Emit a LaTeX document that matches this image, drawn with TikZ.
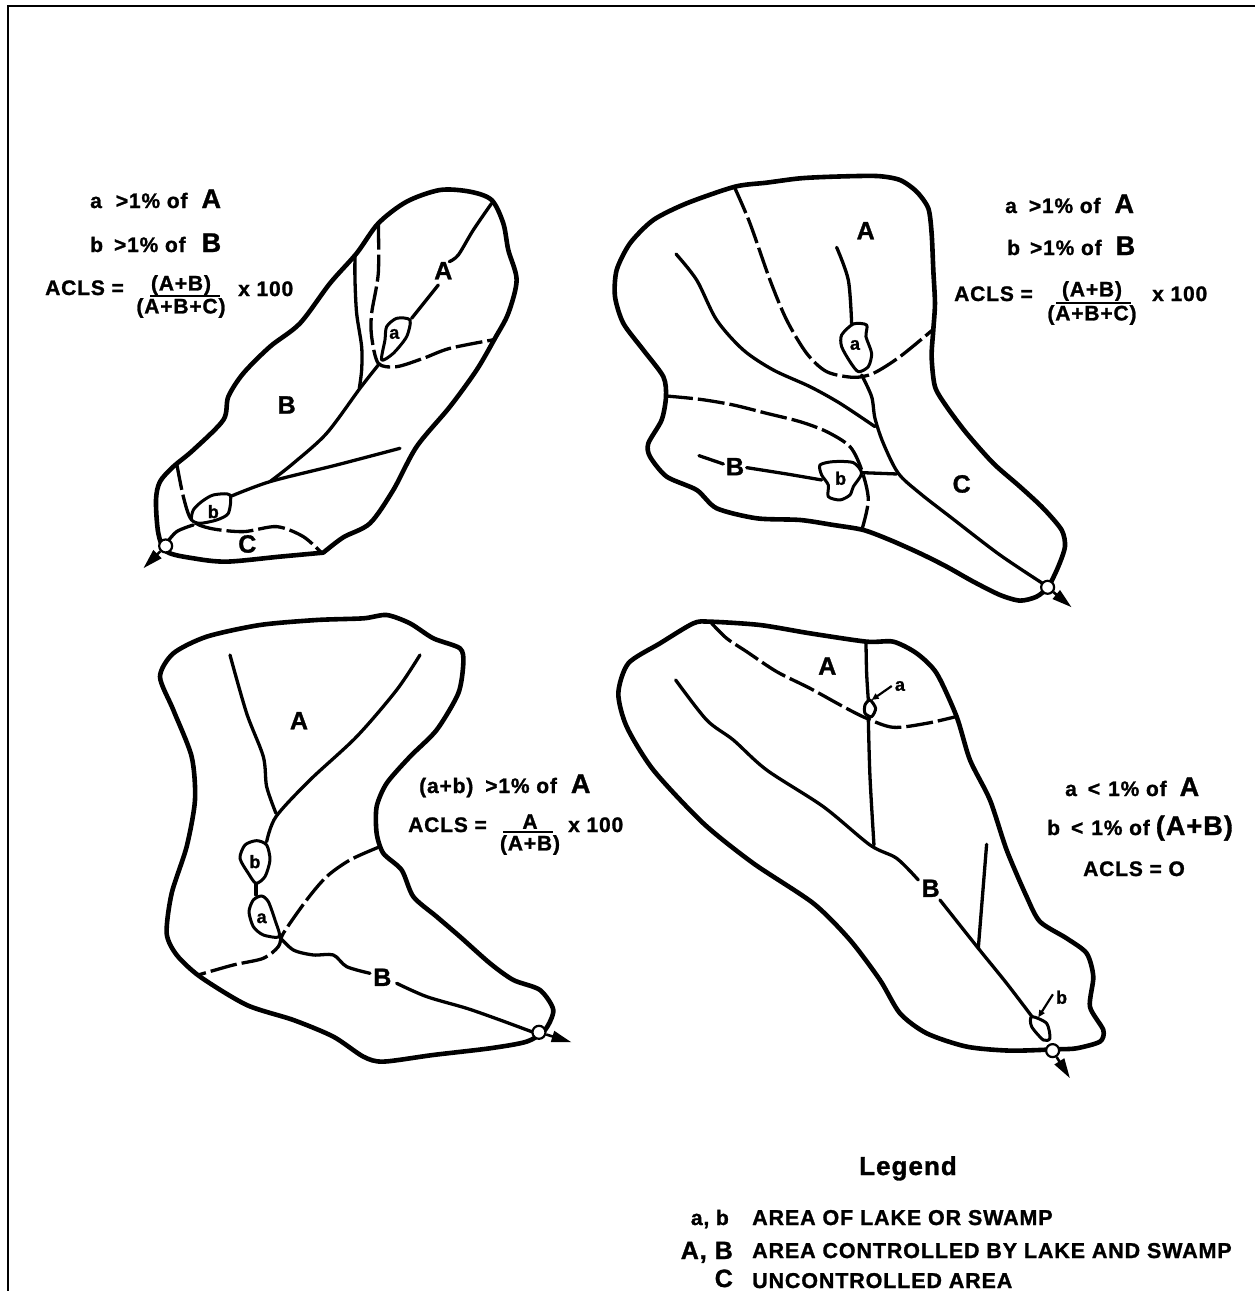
\documentclass[tikz,border=0pt]{standalone}
\usepackage{fontspec}
\setmainfont{Liberation Sans}[BoldFeatures={FakeBold=1.2,LetterSpace=4}]
\usetikzlibrary{arrows.meta}
\newcommand\crv[2]{\draw[#1] plot[smooth,tension=.5] coordinates {#2};}
\newcommand\loopc[2]{\draw[#1] plot[smooth cycle,tension=.45] coordinates {#2};}
\newcommand\fs[1]{\fontsize{#1}{#1}\selectfont\bfseries}
\newcommand\gap[1]{\hspace{#1pt}}
\tikzset{
 ink/.style={black,line cap=round,line join=round},
 bound/.style={ink,line width=4.6pt},
 stream/.style={ink,line width=3.3pt},
 divide/.style={black,line width=3.3pt,dash pattern=on 27pt off 5pt,line join=round},
 lake/.style={ink,line width=3pt,fill=white},
 outlet/.style={circle,draw=black,fill=white,line width=2.2pt,minimum size=13pt,inner sep=0pt},
 flow/.style={black,line width=2.6pt,-{Triangle[length=20pt,width=11pt]}},
 lead/.style={black,line width=2.2pt,-{Triangle[length=7pt,width=6pt]}},
 big/.style={font=\fs{25},inner sep=0pt},
 small/.style={font=\fs{18},inner sep=0pt},
 txt/.style={font=\fs{21},inner sep=0pt},
 basin/.style={x=.3333pt,y=-.3333pt},
}
\begin{document}
\begin{tikzpicture}[x=1pt,y=-1pt]
\useasboundingbox[fill=white] (0,0) rectangle (1255,1291);
\coordinate (frameTL) at (8,6);
\coordinate (frameTR) at (1255,6);
\coordinate (frameBL) at (8,1291);
\draw[black,line width=2.6pt] (frameBL) -- (frameTL) -- (frameTR);

% ---------- basin 1 (upper left)
\begin{scope}[basin,shift={(130pt,-180pt)}]
\crv{bound}{(580,1118)(450,1130)(290,1145)(190,1135)(110,1115)(85,1060)(78,960)(90,905)(130,860)(190,810)(280,720)(295,650)(340,580)(420,500)(510,430)(600,310)(680,220)(745,130)(830,65)(930,30)(1020,35)(1085,60)(1120,130)(1135,210)(1160,300)(1135,400)(1095,475)(1040,570)(960,680)(860,800)(790,930)(720,1030)(640,1072)(580,1118)}
\crv{stream}{(1085,70)(1030,150)(985,225)(958,245)}
\crv{stream}{(925,315)(885,365)(845,415)}
\crv{stream}{(675,225)(675,300)(680,400)(695,500)(695,570)(688,625)}
\crv{stream}{(745,555)(690,625)(590,760)(490,850)(420,905)}
\crv{stream}{(810,805)(620,855)(420,905)(300,950)}
\crv{stream}{(190,1035)(140,1055)(105,1095)}
\crv{divide}{(745,128)(745,280)(725,400)(725,470)(745,550)(800,560)(880,535)(960,505)(1098,478)}
\crv{divide}{(140,850)(160,950)(185,1020)(240,1045)(340,1055)(440,1040)(520,1070)(578,1122)}
\loopc{lake}{(770,440)(800,415)(840,420)(830,470)(790,520)(755,540)(765,480)}
\loopc{lake}{(215,965)(250,945)(300,945)(295,1000)(260,1020)(210,1030)(185,1020)(190,990)}
\node[big] (b1A) at (940,272) {A};
\node[big] (b1B) at (470,675) {B};
\node[big] (b1C) at (352,1092) {C};
\node[small] (b1a) at (793,462) {a};
\node[small] (b1b) at (250,995) {b};
\node[outlet] (o1) at (107,1098) {};
\coordinate (e1) at (40,1165);
\draw[flow] (o1) -- (e1);
\end{scope}

% ---------- basin 2 (upper right)
\begin{scope}[basin,shift={(600pt,-170pt)}]
\loopc{bound}{(405,50)(500,38)(600,25)(700,20)(830,18)(900,30)(950,65)(985,115)(995,190)(1000,300)(1005,400)(1000,480)(995,560)(1005,650)(1040,710)(1100,790)(1180,880)(1260,950)(1330,1015)(1385,1080)(1395,1130)(1375,1190)(1345,1250)(1310,1280)(1260,1292)(1200,1275)(1120,1235)(1040,1190)(960,1150)(870,1110)(790,1080)(700,1065)(600,1050)(470,1045)(350,1015)(290,960)(200,920)(150,860)(145,820)(185,750)(198,680)(190,620)(130,540)(70,460)(45,380)(50,300)(90,220)(160,150)(260,100)}
\crv{stream}{(1343,1250)(1200,1155)(1050,1040)(960,970)(895,910)(850,820)(825,745)(815,680)(785,615)}
\crv{stream}{(710,232)(745,330)(755,460)}
\crv{stream}{(228,252)(290,330)(350,450)(430,540)(520,600)(630,650)(720,700)(825,770)}
\crv{stream}{(297,857)(370,882)}
\crv{stream}{(440,893)(560,912)(665,930)}
\crv{stream}{(785,908)(890,912)}
\crv{divide}{(405,55)(450,160)(510,330)(560,450)(620,550)(680,605)(760,622)(820,610)(900,560)(1000,478)}
\crv{divide}{(198,678)(300,688)(400,705)(500,730)(600,755)(680,785)(750,830)(785,900)(805,990)(785,1082)}
\loopc{lake}{(760,462)(800,465)(798,500)(815,550)(805,590)(775,605)(750,575)(725,530)(725,495)}
\loopc{lake}{(660,885)(700,875)(760,878)(785,910)(760,950)(750,975)(720,990)(685,980)(685,945)(665,915)}
\node[big] (b2A) at (797,182) {A};
\node[big] (b2B) at (405,890) {B};
\node[big] (b2C) at (1085,942) {C};
\node[small] (b2a) at (765,525) {a};
\node[small] (b2b) at (722,925) {b};
\node[outlet] (o2) at (1343,1252) {};
\coordinate (e2) at (1415,1312);
\draw[flow] (o2) -- (e2);
\end{scope}

% ---------- basin 3 (lower left)
\begin{scope}[basin,shift={(150pt,-600pt)}]
\loopc{bound}{(710,45)(780,70)(850,115)(930,145)(940,190)(925,280)(860,390)(780,470)(710,550)(680,620)(680,700)(700,760)(755,810)(790,890)(860,950)(930,1010)(1020,1090)(1090,1140)(1170,1170)(1210,1230)(1185,1290)(1130,1325)(1020,1345)(850,1365)(700,1385)(640,1370)(550,1310)(430,1260)(290,1215)(150,1130)(80,1065)(50,1000)(65,880)(110,740)(135,600)(125,470)(70,330)(30,230)(70,160)(170,110)(330,75)(500,60)(640,55)}
\crv{stream}{(240,165)(290,340)(340,470)(350,560)(378,640)}
\crv{stream}{(810,165)(740,270)(620,410)(480,540)(378,650)(350,725)}
\crv{stream}{(318,850)(318,885)}
\crv{stream}{(388,1010)(430,1050)(490,1065)(550,1065)(590,1100)(660,1120)}
\crv{stream}{(740,1150)(830,1190)(950,1225)(1050,1260)(1150,1297)}
\crv{divide}{(685,742)(600,780)(530,830)(470,900)(400,1000)(385,1040)(340,1075)(250,1095)(148,1124)}
\loopc{lake}{(350,735)(360,780)(345,830)(318,850)(295,820)(270,775)(285,735)(320,722)}
\loopc{lake}{(335,888)(355,905)(375,960)(388,1010)(340,1005)(310,980)(297,935)(310,900)}
\node[big] (b3A) at (447,362) {A};
\node[big] (b3B) at (697,1132) {B};
\node[small] (b3a) at (335,955) {a};
\node[small] (b3b) at (315,785) {b};
\node[outlet] (o3) at (1167,1297) {};
\coordinate (e3) at (1265,1327);
\draw[flow] (o3) -- (e3);
\end{scope}

% ---------- basin 4 (lower right)
\begin{scope}[basin,shift={(610pt,-610pt)}]
\loopc{bound}{(300,35)(450,45)(600,70)(770,95)(850,95)(920,130)(980,190)(1040,320)(1080,450)(1140,570)(1190,720)(1250,860)(1290,935)(1370,985)(1430,1030)(1450,1100)(1440,1190)(1480,1260)(1470,1295)(1400,1315)(1340,1318)(1200,1322)(1070,1310)(950,1270)(870,1210)(810,1110)(720,990)(610,880)(430,760)(280,640)(130,480)(50,350)(25,250)(55,160)(150,100)(250,40)}
\crv{stream}{(768,95)(770,190)(775,270)}
\crv{stream}{(775,325)(780,500)(792,705)}
\crv{stream}{(197,210)(290,330)(370,390)(470,480)(640,590)(780,705)(860,745)(925,810)}
\crv{stream}{(990,870)(1105,1015)(1190,1120)(1270,1225)}
\crv{stream}{(1130,703)(1105,1015)}
\crv{divide}{(305,40)(350,85)(410,125)(500,185)(600,235)(700,290)(770,325)(850,352)(950,340)(1038,320)}
\loopc{lake}{(780,270)(797,295)(785,320)(765,310)(765,285)}
\loopc{lake}{(1265,1220)(1310,1240)(1320,1285)(1300,1290)(1265,1250)}
\node[big] (b4A) at (652,168) {A};
\node[big] (b4B) at (962,835) {B};
\node[small] (b4a) at (870,228) {a};
\node[small] (b4b) at (1355,1162) {b};
\coordinate (la) at (785,270);
\coordinate (lb) at (1285,1222);
\draw[lead] (b4a.west) ++(-3pt,0pt) -- (la);
\draw[lead] (b4b.west) ++(-3pt,3pt) -- (lb);
\node[outlet] (o4) at (1328,1322) {};
\coordinate (e4) at (1380,1405);
\draw[flow] (o4) -- (e4);
\end{scope}

% ---------- formulas
\node[txt,anchor=base west] (t1a) at (90,208) {a\gap{14}>1\% of\gap{14}{\fs{27}A}};
\node[txt,anchor=base west] (t1b) at (90,252) {b\gap{11}>1\% of\gap{16}{\fs{27}B}};
\node[txt,anchor=base west] (t1c) at (45,295) {ACLS =};
\node[txt,anchor=south] (t1n) at (181,295) {(A+B)};
\node[txt,anchor=north] (t1d) at (181,298) {(A+B+C)};
\coordinate (f1l) at (150,296);\coordinate (f1r) at (220,296);
\draw[black,line width=2.2pt] (f1l) -- (f1r);
\node[txt,anchor=base west] (t1x) at (238,296) {x 100};

\node[txt,anchor=base west] (t2a) at (1005,213) {a\gap{12}>1\% of\gap{14}{\fs{27}A}};
\node[txt,anchor=base west] (t2b) at (1007,255) {b\gap{10}>1\% of\gap{14}{\fs{27}B}};
\node[txt,anchor=base west] (t2c) at (954,301) {ACLS =};
\node[txt,anchor=south] (t2n) at (1092,301) {(A+B)};
\node[txt,anchor=north] (t2d) at (1092,305) {(A+B+C)};
\coordinate (f2l) at (1056,303);\coordinate (f2r) at (1131,303);
\draw[black,line width=2.2pt] (f2l) -- (f2r);
\node[txt,anchor=base west] (t2x) at (1152,301) {x 100};

\node[txt,anchor=base west] (t3a) at (419,793) {(a+b)\gap{12}>1\% of\gap{14}{\fs{27}A}};
\node[txt,anchor=base west] (t3c) at (408,832) {ACLS =};
\node[txt,anchor=south] (t3n) at (530,829) {A};
\node[txt,anchor=north] (t3d) at (530,835) {(A+B)};
\coordinate (f3l) at (503,832);\coordinate (f3r) at (553,832);
\draw[black,line width=2.2pt] (f3l) -- (f3r);
\node[txt,anchor=base west] (t3x) at (568,832) {x 100};

\node[txt,anchor=base west] (t4a) at (1065,796) {a\gap{11}<\gap{8}1\% of\gap{13}{\fs{27}A}};
\node[txt,anchor=base west] (t4b) at (1047,835) {b\gap{11}<\gap{8}1\% of\gap{6}{\fs{27}(A+B)}};
\node[txt,anchor=base west] (t4c) at (1083,876) {ACLS = O};

% ---------- legend
\node[font=\fs{26},inner sep=0pt,anchor=base] (lg) at (908,1175) {Legend};
\node[font=\fs{21},inner sep=0pt,anchor=base east] (l1k) at (729,1225) {a, b};
\node[font=\fs{25},inner sep=0pt,anchor=base east] (l2k) at (733,1259) {A, B};
\node[font=\fs{25},inner sep=0pt,anchor=base east] (l3k) at (733,1287) {C};
\node[font=\fs{21.5},inner sep=0pt,anchor=base west] (l1t) at (752,1225) {AREA OF LAKE OR SWAMP};
\node[font=\fs{21.5},inner sep=0pt,anchor=base west] (l2t) at (752,1258) {AREA CONTROLLED BY LAKE AND SWAMP};
\node[font=\fs{21.5},inner sep=0pt,anchor=base west] (l3t) at (752,1288) {UNCONTROLLED AREA};
\end{tikzpicture}
\end{document}
